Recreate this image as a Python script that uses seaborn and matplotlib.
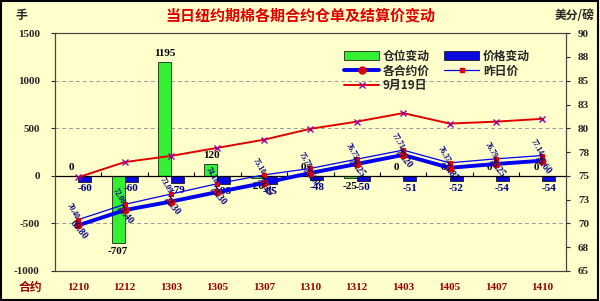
import numpy as np
import pandas as pd
import matplotlib
matplotlib.use("Agg")
import matplotlib.pyplot as plt
import seaborn as sns
from matplotlib.patches import Patch, Rectangle
from matplotlib.lines import Line2D

# ---------------- data ----------------
contracts = ["1210", "1212", "1303", "1305", "1307", "1310", "1312", "1403", "1405", "1407", "1410"]
position_change = [0, -707, 1195, 120, -20, 0, -25, 0, 0, 0, 0]          # 仓位变动 (手)
price_change = [-60, -60, -79, -88, -85, -48, -50, -51, -52, -54, -54]     # 价格变动 (点)
settle_price = [69.80, 71.40, 72.30, 73.30, 74.25, 75.30, 76.25, 77.20, 75.85, 76.25, 76.60]   # 各合约价
prev_price = [70.40, 72.00, 73.09, 74.18, 75.10, 75.78, 76.75, 77.71, 76.37, 76.79, 77.14]     # 昨日价
sep19_price = [74.85, 76.45, 77.10, 77.95, 78.80, 79.95, 80.70, 81.60, 80.50, 80.70, 81.00]    # 9月19日
left_ticks = [-1000, -500, 0, 500, 1000, 1500]
right_ticks = [65, 67.5, 70, 72.5, 75, 77.5, 80, 82.5, 85, 87.5, 90]
right_tick_labels = ["65", "68", "70", "73", "75", "78", "80", "83", "85", "88", "90"]

title = "当日纽约期棉各期合约仓单及结算价变动"

# ---------------- style ----------------
sns.set_style("white")
plt.rcParams["font.family"] = ["Liberation Serif", "Noto Sans CJK SC", "DejaVu Sans"]
plt.rcParams["font.weight"] = "bold"

BG = "#FFFFCC"
GREEN = "#33F033"
BLUE = "#0A0ADC"
LINE_BLUE = "#0000F0"
RED = "#E00000"
DARKRED = "#990000"
NAVY = "#000080"
CJK = ["Noto Sans CJK SC", "DejaVu Sans"]

fig = plt.figure(figsize=(6.0, 3.01), dpi=100, facecolor=BG)
ax = fig.add_axes([0.0917, 0.0997, 0.851, 0.790])
ax.set_facecolor(BG)

df = pd.DataFrame({
    "合约": contracts * 2,
    "value": position_change + price_change,
    "series": ["仓位变动"] * len(contracts) + ["价格变动"] * len(contracts),
})
sns.barplot(data=df, x="合约", y="value", hue="series", order=contracts,
            hue_order=["仓位变动", "价格变动"], palette=[GREEN, BLUE],
            width=0.56, dodge=True, edgecolor="black", linewidth=0.5,
            legend=False, ax=ax, errorbar=None, saturation=1)

ax.set_ylim(-1000, 1500)
ax.set_xlim(-0.5, len(contracts) - 0.5)
ax.set_yticks(left_ticks)
ax.set_yticklabels([f"{t}" for t in left_ticks], fontsize=8, fontweight="bold")
ax.set_xlabel("")
ax.set_ylabel("")
ax.set_xticks(range(len(contracts)))
ax.set_xticklabels(contracts, color=DARKRED, fontsize=8, fontweight="bold")
ax.tick_params(axis="x", length=0, pad=9)
ax.tick_params(axis="y", direction="out", length=3, width=0.8, pad=8, left=True)
for g in [-500, 500, 1000]:
    ax.axhline(g, color="#999999", lw=0.7, ls=(0, (4, 3)), zorder=0)
ax.axhline(0, color="black", lw=0.9, zorder=1)
ax.vlines(np.arange(0.5, len(contracts) - 0.5), 0, 40, color="black", lw=0.8, zorder=1)
for s in ax.spines.values():
    s.set_color("#444444")
    s.set_linewidth(0.8)

# bar labels
containers = ax.containers
ax.bar_label(containers[0], labels=[f"{v}" for v in position_change], padding=3,
             fontsize=8, fontweight="bold", color="black")
ax.bar_label(containers[1], labels=[f"{v}" for v in price_change], padding=2,
             fontsize=8, fontweight="bold", color=NAVY)

# ---------------- right axis lines ----------------
ax2 = ax.twinx()
xpos = np.arange(len(contracts))
sns.lineplot(x=xpos, y=sep19_price, ax=ax2, color=RED, lw=1.4, marker="x",
             markersize=4, markeredgecolor="#990099", markeredgewidth=1)
sns.lineplot(x=xpos, y=prev_price, ax=ax2, color=LINE_BLUE, lw=0.9, marker="s",
             markersize=3, markerfacecolor=RED, markeredgecolor=RED)
sns.lineplot(x=xpos, y=settle_price, ax=ax2, color=LINE_BLUE, lw=2.8, marker="o",
             markersize=5, markerfacecolor=RED, markeredgecolor=RED)
ax2.set_ylim(65, 90)
ax2.set_yticks(right_ticks)
ax2.set_yticklabels(right_tick_labels, fontsize=8, fontweight="bold")
ax2.tick_params(axis="y", direction="out", length=3, width=0.8, pad=6, right=True)
ax2.set_xlim(-0.5, len(contracts) - 0.5)
for s in ax2.spines.values():
    s.set_color("#444444")
    s.set_linewidth(0.8)

for i, v in enumerate(settle_price):
    ax2.annotate(f"{v:.2f}", (i, v), xytext=(0, -3), textcoords="offset points",
                 rotation=-50, ha="center", va="center", fontsize=7,
                 fontweight="bold", color=NAVY)
for i, v in enumerate(prev_price):
    ax2.annotate(f"{v:.2f}", (i, v), xytext=(-4, 6), textcoords="offset points",
                 rotation=-60, ha="center", va="center", fontsize=5.5,
                 fontweight="bold", color=NAVY)

# ---------------- legend ----------------
handles = [
    Patch(facecolor=GREEN, edgecolor="black", lw=0.5, label="仓位变动"),
    Line2D([], [], color=LINE_BLUE, lw=2.8, marker="o", markersize=5,
           markerfacecolor=RED, markeredgecolor=RED, label="各合约价"),
    Line2D([], [], color=RED, lw=1.4, marker="x", markersize=4,
           markeredgecolor="#990099", label="9月19日"),
    Patch(facecolor=BLUE, edgecolor="black", lw=0.5, label="价格变动"),
    Line2D([], [], color=LINE_BLUE, lw=0.9, marker="s", markersize=3,
           markerfacecolor=RED, markeredgecolor=RED, label="昨日价"),
]
leg = ax2.legend(handles=handles, ncol=2, loc="upper left", bbox_to_anchor=(0.545, 0.975),
                 frameon=False, handlelength=3.0, handleheight=0.8,
                 labelspacing=0.15, columnspacing=1.2, handletextpad=0.3,
                 prop={"family": CJK, "weight": "bold", "size": 8.5})

# ---------------- texts ----------------
fig.text(0.5, 0.95, title, ha="center", va="center", color=RED, fontsize=10.8,
         fontweight="bold", family=CJK)
fig.text(0.035, 0.95, "手", ha="center", va="center", fontsize=8.5, fontweight="bold",
         family=CJK)
fig.text(0.958, 0.95, "美分/磅", ha="center", va="center", fontsize=8.5, fontweight="bold",
         family=CJK)
fig.text(0.05, 0.045, "合约", ha="center", va="center", fontsize=8.5, fontweight="bold",
         color=DARKRED, family=CJK)

fig.patches.append(Rectangle((0.002, 0.003), 0.995, 0.993, transform=fig.transFigure,
                             fill=False, edgecolor="black", lw=1.5))

fig.savefig("out.png", dpi=100, facecolor=BG)
